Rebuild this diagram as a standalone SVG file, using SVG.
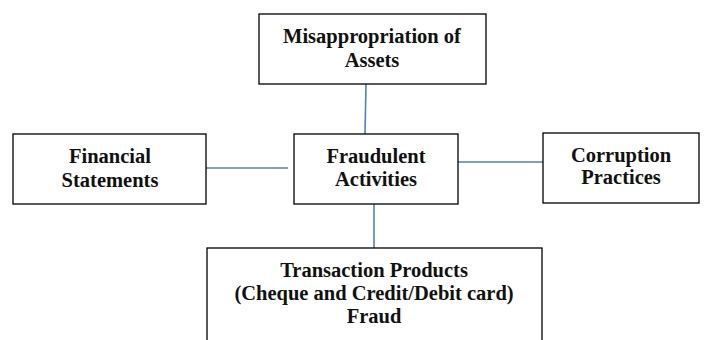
<svg xmlns="http://www.w3.org/2000/svg" width="704" height="340" viewBox="0 0 704 340">
<style>
.box{fill:#fff;stroke:#000;stroke-width:1.3}
.t{font-family:"Liberation Serif",serif;font-weight:bold;font-size:20.5px;fill:#111;text-anchor:middle}
.c{stroke:#4f81bd;stroke-width:1.6;fill:none}
</style>
<rect width="704" height="340" fill="#fff"/>
<g id="connectors">
<line class="c" x1="366" y1="84" x2="365" y2="134"/>
<line class="c" x1="206" y1="168" x2="288" y2="168"/>
<line class="c" x1="458" y1="162" x2="543" y2="162"/>
<line class="c" x1="374" y1="204" x2="374" y2="248"/>
</g>
<g id="misappropriation">
<rect class="box" x="259" y="14" width="227" height="70"/>
<text class="t" x="372" y="43">Misappropriation of</text>
<text class="t" x="372" y="67">Assets</text>
</g>
<g id="financial">
<rect class="box" x="13" y="134" width="193" height="70"/>
<text class="t" x="110" y="163">Financial</text>
<text class="t" x="110" y="187">Statements</text>
</g>
<g id="fraudulent">
<rect class="box" x="294" y="134" width="164" height="70"/>
<text class="t" x="376" y="163">Fraudulent</text>
<text class="t" x="376" y="186">Activities</text>
</g>
<g id="corruption">
<rect class="box" x="543" y="133" width="156" height="70"/>
<text class="t" x="621" y="162">Corruption</text>
<text class="t" x="621" y="184">Practices</text>
</g>
<g id="transaction">
<rect class="box" x="207" y="248" width="335" height="100"/>
<text class="t" x="374" y="277">Transaction Products</text>
<text class="t" x="374" y="300">(Cheque and Credit/Debit card)</text>
<text class="t" x="374" y="323">Fraud</text>
</g>
</svg>
